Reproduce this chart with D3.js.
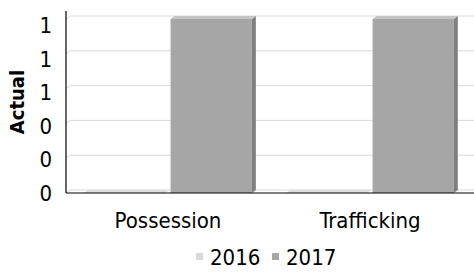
<!DOCTYPE html>
<html>
<head>
<meta charset="utf-8">
<script src="https://cdn.jsdelivr.net/npm/d3@7"></script>
<style>
  body { margin: 0; background: #fff; }
  svg { display: block; font-family: "DejaVu Sans Condensed", "Liberation Sans", sans-serif; font-stretch: condensed; }
</style>
</head>
<body>
<div id="chart"></div>
<script>
// chart data
const categories = ['Possession', 'Trafficking'];
const years = ['2016', '2017'];
const values2016 = [0, 0];
const values2017 = [1, 1];
const yTicks = [0, 0.2, 0.4, 0.6, 0.8, 1];

const width = 474, height = 276;
const depth = { dx: 4, dy: 3 };

const colors = {
  '2016': { front: '#d9d9d9', top: '#dedede', side: '#bfbfbf' },
  '2017': { front: '#a6a6a6', top: '#c4c4c4', side: '#7f7f7f' }
};

const seriesByYear = { '2016': values2016, '2017': values2017 };

const svg = d3.select('#chart').append('svg')
  .attr('width', width)
  .attr('height', height);

// back-wall scale
let y = d3.scaleLinear().domain([0, 1]).range([190, 16]);
// tick labels sit a little lower (front edge)
let yLab = d3.scaleLinear().domain([0, 1]).range([193, 25]);

let x0 = d3.scaleBand().domain(categories).range([67, 471])
  .paddingInner(0.17).paddingOuter(0.085);
let x1 = d3.scaleBand().domain(years).range([0, x0.bandwidth()]).paddingInner(0.06);

// gridlines with small left-wall diagonal
svg.append('g').selectAll('path')
  .data(yTicks)
  .enter().append('path')
  .attr('d', d => `M66,${y(d) + depth.dy} L${66 + depth.dx},${y(d)} L${width},${y(d)}`)
  .attr('fill', 'none')
  .attr('stroke', '#d9d9d9')
  .attr('stroke-width', 1);

// bars (3D look: front, top, side)
let bars = [];
categories.forEach((c, i) => {
  years.forEach(yr => {
    bars.push({ cat: c, year: yr, value: seriesByYear[yr][i] });
  });
});

let bg = svg.append('g');
bars.forEach(b => {
  let xa = x0(b.cat) + x1(b.year);
  let xb = xa + x1.bandwidth();
  let yt = y(b.value) + depth.dy;
  let yb = y(0) + depth.dy;
  let col = colors[b.year];
  if (yb - yt > 0) {
    bg.append('rect')
      .attr('x', xa).attr('y', yt)
      .attr('width', xb - xa).attr('height', yb - yt)
      .attr('fill', col.front);
    bg.append('path')
      .attr('d', `M${xb},${yt} L${xb + depth.dx},${yt - depth.dy} L${xb + depth.dx},${yb - depth.dy} L${xb},${yb}Z`)
      .attr('fill', col.side);
  }
  bg.append('path')
    .attr('d', `M${xa},${yt} L${xa + depth.dx},${yt - depth.dy} L${xb + depth.dx},${yt - depth.dy} L${xb},${yt}Z`)
    .attr('fill', col.top);
});

// axes lines
svg.append('line')
  .attr('x1', 66).attr('x2', 66).attr('y1', 11).attr('y2', y(0) + depth.dy)
  .attr('stroke', '#000').attr('stroke-width', 1.2);
svg.append('line')
  .attr('x1', 66).attr('x2', width).attr('y1', y(0) + depth.dy).attr('y2', y(0) + depth.dy)
  .attr('stroke', '#000').attr('stroke-width', 1.2);

// y tick labels
let fmt = d3.format('.0f');
svg.append('g').selectAll('text')
  .data(yTicks)
  .enter().append('text')
  .attr('x', 52)
  .attr('y', d => yLab(d))
  .attr('dy', '0.36em')
  .attr('text-anchor', 'end')
  .attr('font-size', 22)
  .attr('fill', '#000')
  .text(d => fmt(d));

// y axis title
svg.append('text')
  .attr('transform', 'translate(24,102) rotate(-90)')
  .attr('text-anchor', 'middle')
  .attr('font-size', 20)
  .attr('font-weight', 'bold')
  .text('Actual');

// category labels
svg.append('g').selectAll('text')
  .data(categories)
  .enter().append('text')
  .attr('x', d => x0(d) + x0.bandwidth() / 2)
  .attr('y', 228)
  .attr('text-anchor', 'middle')
  .attr('font-size', 22)
  .text(d => d);

// legend
let legend = svg.append('g');
let legX = d3.scalePoint().domain(years).range([196, 272]);
years.forEach(yr => {
  legend.append('rect')
    .attr('x', legX(yr)).attr('y', 253)
    .attr('width', 7).attr('height', 7)
    .attr('fill', colors[yr].front);
  legend.append('text')
    .attr('x', legX(yr) + 14).attr('y', 265)
    .attr('font-size', 22)
    .text(yr);
});
</script>
</body>
</html>
